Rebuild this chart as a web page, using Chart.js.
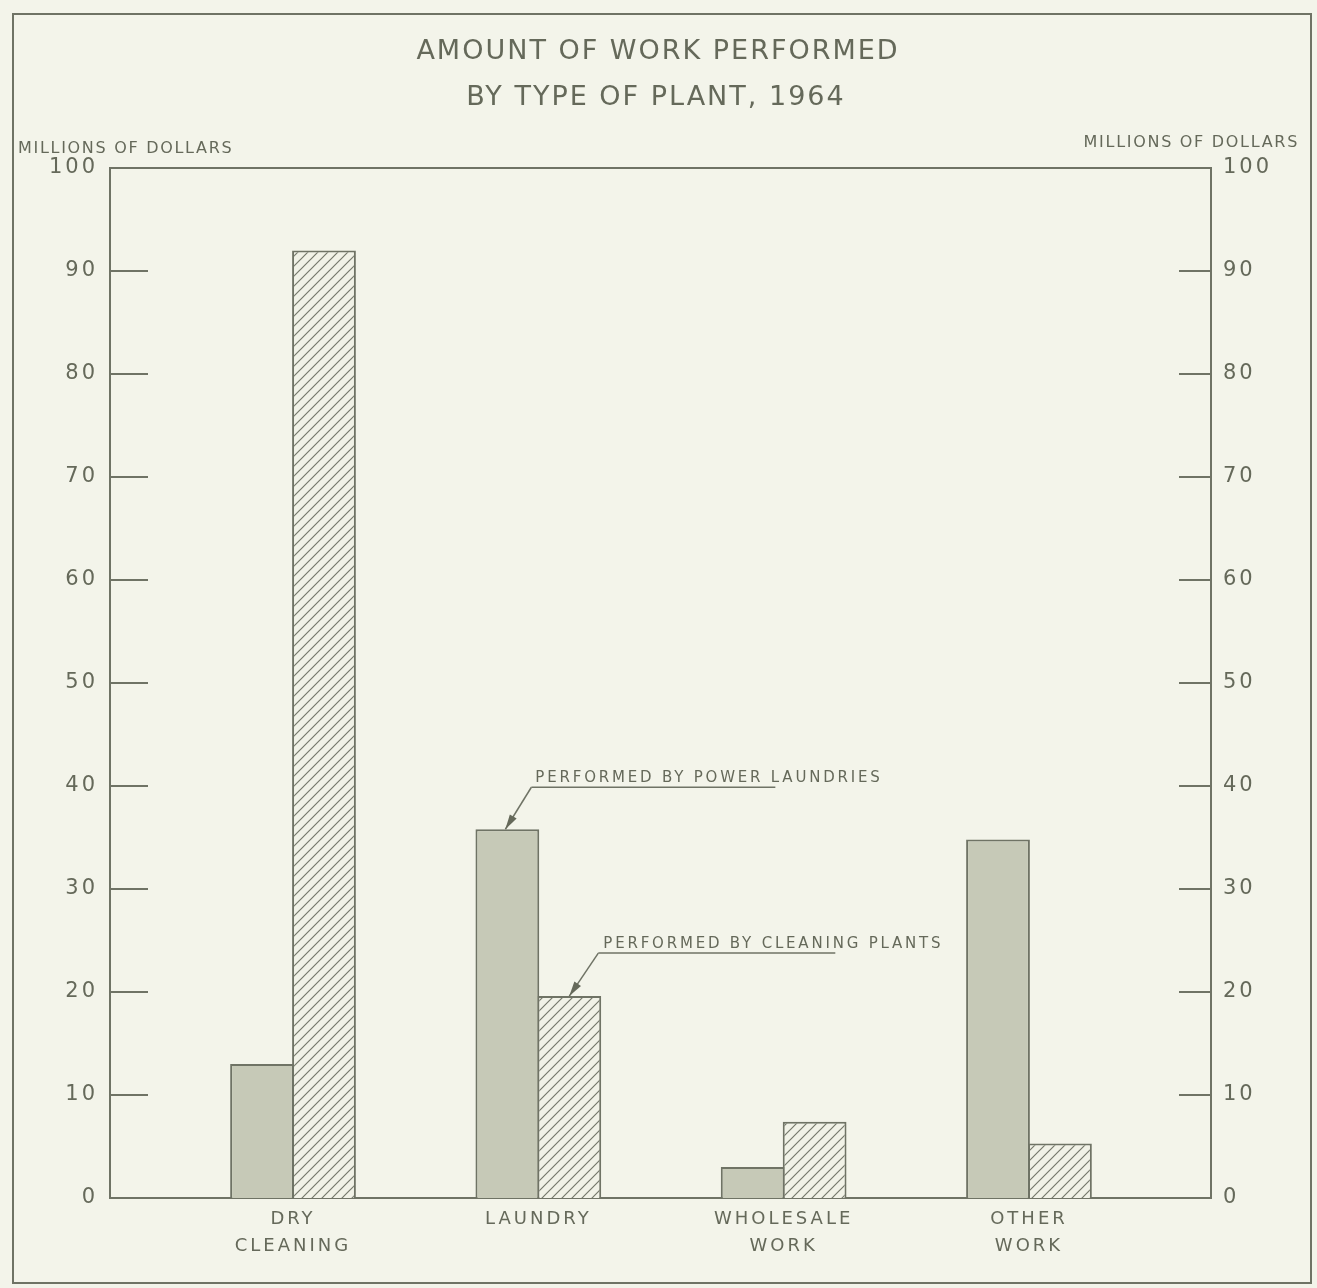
<!DOCTYPE html>
<html>
<head>
<meta charset="utf-8">
<script src="https://cdn.jsdelivr.net/npm/chart.js@4"></script>
<style>
  body { margin: 0; background: #f3f4ea; }
  canvas { display: block; }
</style>
</head>
<body>
<canvas id="chart" width="1317" height="1288"></canvas>
<script>
const categories = [["DRY", "CLEANING"], ["LAUNDRY"], ["WHOLESALE", "WORK"], ["OTHER", "WORK"]];
const powerLaundries = [13, 35.8, 3, 34.8];
const cleaningPlants = [92, 19.6, 7.4, 5.3];
const yTickValues = [0, 10, 20, 30, 40, 50, 60, 70, 80, 90, 100];
const titleLines = ["AMOUNT OF WORK PERFORMED", "BY TYPE OF PLANT, 1964"];
const axisTitle = "MILLIONS OF DOLLARS";
const notePower = "PERFORMED BY POWER LAUNDRIES";
const noteCleaning = "PERFORMED BY CLEANING PLANTS";

const ink = "#65695a";
const lineColor = "#6f7365";
const font = "'DejaVu Sans', sans-serif";

let canvas = document.getElementById("chart");
let ctx = canvas.getContext("2d");

// diagonal hatch for the cleaning plants bars
function makeHatch() {
  let c = document.createElement("canvas");
  c.width = 10;
  c.height = 10;
  let p = c.getContext("2d");
  p.fillStyle = "#f1f2e7";
  p.fillRect(0, 0, 10, 10);
  p.strokeStyle = "#76796b";
  p.lineWidth = 1.2;
  p.beginPath();
  p.moveTo(-5, 5); p.lineTo(5, -5);
  p.moveTo(0, 10); p.lineTo(10, 0);
  p.moveTo(5, 15); p.lineTo(15, 5);
  p.stroke();
  return ctx.createPattern(c, "repeat");
}

function arrow(c, x1, y1, x2, y2) {
  c.beginPath();
  c.moveTo(x1, y1);
  c.lineTo(x2, y2);
  c.stroke();
  let a = Math.atan2(y2 - y1, x2 - x1);
  let len = 15, w = 4;
  c.beginPath();
  c.moveTo(x2, y2);
  c.lineTo(x2 - len * Math.cos(a) + w * Math.sin(a), y2 - len * Math.sin(a) - w * Math.cos(a));
  c.lineTo(x2 - len * Math.cos(a) - w * Math.sin(a), y2 - len * Math.sin(a) + w * Math.cos(a));
  c.closePath();
  c.fill();
}

const decor = {
  id: "decor",
  beforeLayout(chart) {
    chart.ctx.letterSpacing = "3px";
  },
  beforeDraw(chart) {
    let c = chart.ctx;
    c.letterSpacing = "3px";
    c.fillStyle = "#f3f4ea";
    c.fillRect(0, 0, chart.width, chart.height);
  },
  afterDraw(chart) {
    let c = chart.ctx;
    let area = chart.chartArea;
    let y = chart.scales.y;
    let y2 = chart.scales.y2;
    c.save();
    c.strokeStyle = lineColor;
    c.fillStyle = ink;
    c.lineWidth = 2;

    // outer frame
    c.strokeRect(13, 14, 1298, 1269);
    // top of plot
    c.beginPath();
    c.moveTo(area.left, area.top);
    c.lineTo(area.right, area.top);
    c.stroke();

    // inward tick marks
    yTickValues.forEach(v => {
      if (v === 0 || v === 100) return;
      let py = y.getPixelForValue(v);
      c.beginPath();
      c.moveTo(area.left, py); c.lineTo(area.left + 38, py);
      let py2 = y2.getPixelForValue(v);
      c.moveTo(area.right, py2); c.lineTo(area.right - 32, py2);
      c.stroke();
    });

    // titles
    c.textBaseline = "middle";
    c.textAlign = "center";
    c.font = "27px " + font;
    c.letterSpacing = "2px";
    c.fillText(titleLines[0], 658, 52);
    c.fillText(titleLines[1], 656, 98);

    c.font = "16px " + font;
    c.letterSpacing = "1.7px";
    c.textAlign = "left";
    c.fillText(axisTitle, 18, 149);
    c.textAlign = "right";
    c.fillText(axisTitle, 1299, 143);

    // leader notes
    c.font = "15px " + font;
    c.letterSpacing = "2.8px";
    c.textAlign = "left";
    c.textBaseline = "alphabetic";
    c.lineWidth = 1.5;
    let pb = chart.getDatasetMeta(0).data[1];
    c.fillText(notePower, pb.x + 28, pb.y - 47);
    c.beginPath();
    c.moveTo(pb.x + 24, pb.y - 42); c.lineTo(pb.x + 268, pb.y - 42);
    c.stroke();
    arrow(c, pb.x + 24, pb.y - 42, pb.x - 2, pb.y);

    let cb = chart.getDatasetMeta(1).data[1];
    c.fillText(noteCleaning, cb.x + 34, cb.y - 48);
    c.beginPath();
    c.moveTo(cb.x + 29, cb.y - 43); c.lineTo(cb.x + 266, cb.y - 43);
    c.stroke();
    arrow(c, cb.x + 29, cb.y - 43, cb.x, cb.y);
    c.restore();
  }
};

const yScale = (pos, w, pad) => ({
  type: "linear",
  position: pos,
  min: 0,
  max: 100,
  afterBuildTicks: s => { s.ticks = yTickValues.map(v => ({ value: v })); },
  afterFit: s => { s.width = w; },
  grid: { display: false, drawTicks: false },
  border: { display: true, color: lineColor, width: 2 },
  ticks: { color: ink, padding: pad, font: { family: font, size: 21 } }
});

const chart = new Chart(ctx, {
  type: "bar",
  data: {
    datasets: [
      {
        label: "Performed by power laundries",
        data: powerLaundries.map((v, i) => ({ x: i, y: v })),
        backgroundColor: "#c6c9b7",
        borderColor: lineColor,
        borderWidth: 2
      },
      {
        label: "Performed by cleaning plants",
        data: cleaningPlants.map((v, i) => ({ x: i, y: v })),
        backgroundColor: makeHatch(),
        borderColor: lineColor,
        borderWidth: 2
      }
    ]
  },
  options: {
    responsive: false,
    animation: false,
    devicePixelRatio: 1,
    categoryPercentage: 0.505,
    barPercentage: 1.03,
    layout: { padding: { top: 168, left: 0, right: 0, bottom: 0 } },
    plugins: { legend: { display: false }, title: { display: false }, tooltip: { enabled: false } },
    scales: {
      x: {
        type: "linear",
        offset: false,
        min: -0.746,
        max: 3.742,
        afterBuildTicks: s => { s.ticks = categories.map((c, i) => ({ value: i })); },
        afterFit: s => { s.height = 90; },
        grid: { display: false, drawTicks: false },
        border: { display: true, color: lineColor, width: 2 },
        ticks: {
          color: ink,
          padding: 8,
          maxRotation: 0,
          autoSkip: false,
          font: { family: font, size: 18, lineHeight: 1.5 },
          callback: v => categories[v]
        }
      },
      y: yScale("left", 110, 12),
      y2: yScale("right", 106, 12)
    }
  },
  plugins: [decor]
});
</script>
</body>
</html>
